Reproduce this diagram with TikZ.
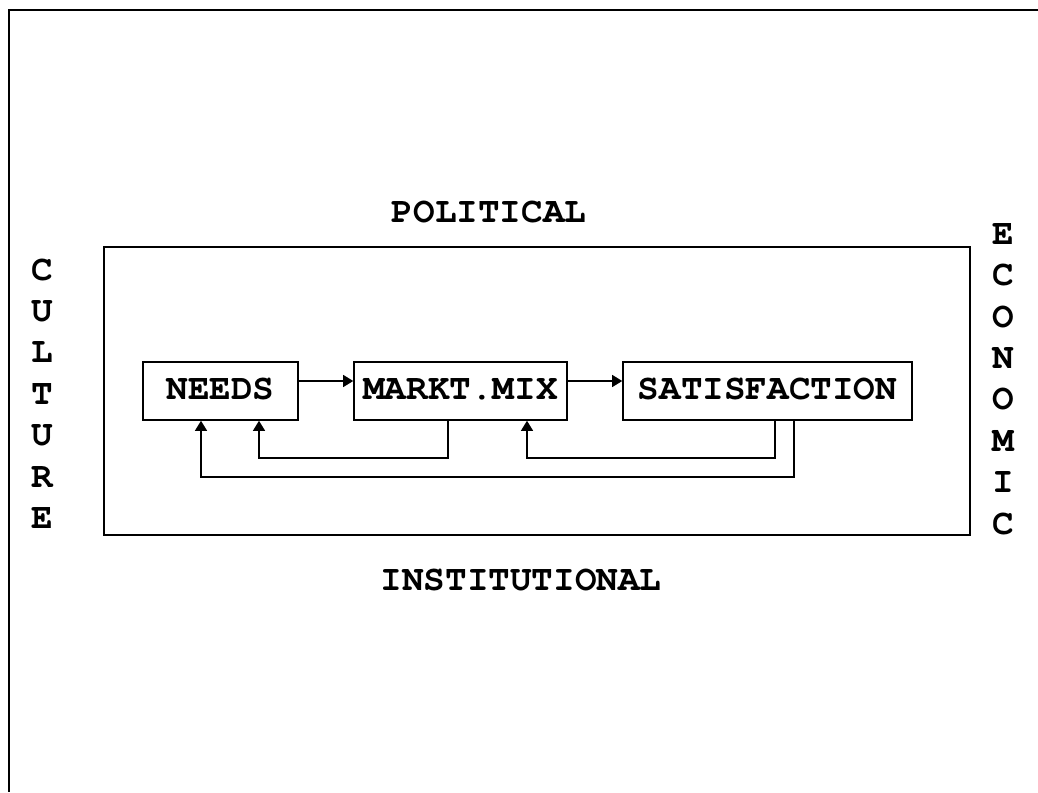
\documentclass[tikz,border=0pt]{standalone}
\usepackage{fontspec}
\setmonofont{TeX Gyre Cursor}
\usetikzlibrary{arrows.meta}
\newcommand*{\labelfont}{\ttfamily\bfseries\fontsize{18}{20.7}\selectfont}
\tikzset{
	stage/.style={draw, thick, minimum height=29pt, inner sep=0pt, font=\labelfont},
	flow/.style={semithick, -{Triangle[length=5pt, width=6pt]}},
	side/.style={font=\labelfont, align=center, inner sep=0pt},
}

\begin{document}
\begin{tikzpicture}[x=0.5pt, y=-0.5pt]
\useasboundingbox (0,0) rectangle (1038,792);

\draw[line width=1pt] (1038,10) -- (9,10) -- (9,792);

\node[draw, thick, minimum width=433pt, minimum height=144pt] (frame) at (537,391) {};

\node[stage, minimum width=77.5pt] (needs) at (220.5,391) {\raisebox{2pt}{NEEDS}};
\node[stage, minimum width=106.5pt] (markt) at (460.5,391) {\raisebox{2pt}{MARKT.MIX}};
\node[stage, minimum width=144.5pt] (satis) at (767.5,391) {\raisebox{2pt}{SATISFACTION}};

\draw[flow] ([yshift=5pt]needs.east) -- ([yshift=5pt]markt.west);
\draw[flow] ([yshift=5pt]markt.east) -- ([yshift=5pt]satis.west);

\coordinate (mdrop) at (448,458);
\coordinate (nrise) at (259,458);
\coordinate (sdrop) at (775,458);
\coordinate (mrise) at (527,458);
\coordinate (sdroplong) at (794,477);
\coordinate (nriselong) at (201,477);

\draw[flow] (mdrop |- markt.south) -- (mdrop) -- (nrise) -- (nrise |- needs.south);
\draw[flow] (sdrop |- satis.south) -- (sdrop) -- (mrise) -- (mrise |- markt.south);
\draw[flow] (sdroplong |- satis.south) -- (sdroplong) -- (nriselong) -- (nriselong |- needs.south);

\node[side] (political) at (489,212) {POLITICAL};
\node[side] (institutional) at (521,580) {INSTITUTIONAL};
\node[side] (culture) at (42,393.5) {C\\U\\L\\T\\U\\R\\E};
\node[side] (economic) at (1003,379) {E\\C\\O\\N\\O\\M\\I\\C};
\end{tikzpicture}
\end{document}
